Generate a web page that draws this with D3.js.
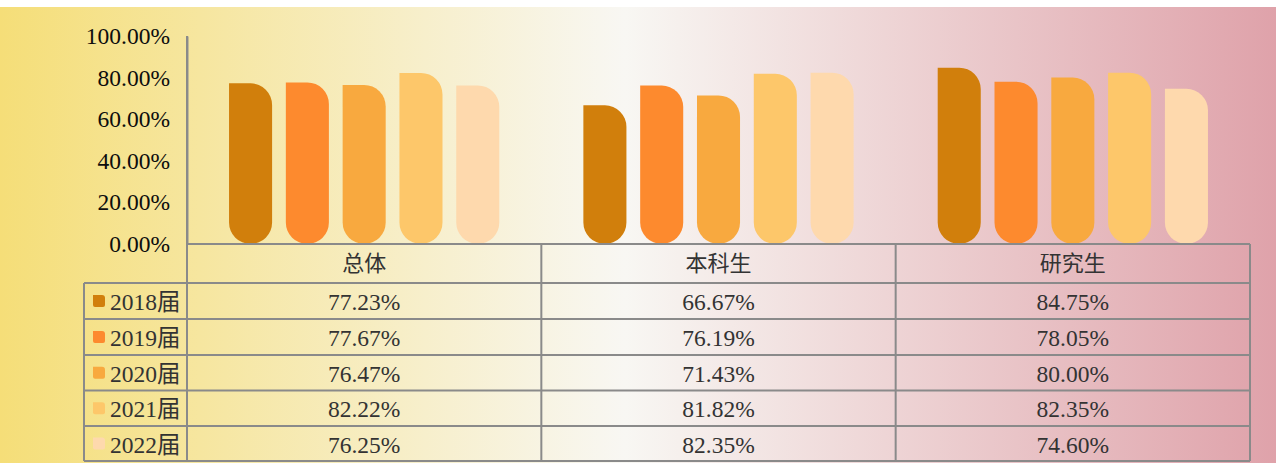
<!DOCTYPE html>
<html><head><meta charset="utf-8">
<script src="https://cdn.jsdelivr.net/npm/d3@7"></script>
<style>html,body{margin:0;padding:0;background:#fff;}svg{display:block;}
svg text{font-family:"Liberation Serif","Times New Roman",Times,"Noto Sans CJK SC",serif;}</style>
</head><body>
<script>
const categories = ["总体", "本科生", "研究生"];
const series = ["2018届", "2019届", "2020届", "2021届", "2022届"];
const values2018 = [77.23, 66.67, 84.75];
const values2019 = [77.67, 76.19, 78.05];
const values2020 = [76.47, 71.43, 80.00];
const values2021 = [82.22, 81.82, 82.35];
const values2022 = [76.25, 82.35, 74.60];
const yTicks = [0, 20, 40, 60, 80, 100];
const colors = ["#D17F0C", "#FD8A2E", "#F8A93F", "#FDC76A", "#FED9AD"];

const allValues = [values2018, values2019, values2020, values2021, values2022];

(function () {
const W = 1276, H = 463;
const svg = d3.select("body").append("svg").attr("width", W).attr("height", H);

const defs = svg.append("defs");
const grad = defs.append("linearGradient").attr("id", "bg").attr("x1", "0").attr("x2", "1").attr("y1", "0").attr("y2", "0");
grad.append("stop").attr("offset", "0").attr("stop-color", "#F5DE78");
grad.append("stop").attr("offset", "0.49").attr("stop-color", "#F8F7F3");
grad.append("stop").attr("offset", "1").attr("stop-color", "#DFA2AA");
svg.append("rect").attr("x", 0).attr("y", 7).attr("width", W).attr("height", H - 7).attr("fill", "url(#bg)");

const pLeft = 187, pRight = 1250, pTop = 36, base = 244;
const rowEdges = [244, 283, 319, 355, 390.5, 426, 461];
const legendLeft = 84;

const x0 = d3.scaleBand().domain(categories).range([pLeft, pRight]).padding(0);
const x1 = d3.scaleBand().domain(series).range([0, x0.bandwidth()]).paddingInner(0.242).paddingOuter(0.74);
const y = d3.scaleLinear().domain([0, 100]).range([base, pTop]);

function barPath(x, yt, w, y0) {
  const r = w / 2;
  const h = y0 - yt;
  const rt = Math.min(r, h / 2);
  return `M${x},${y0 - r} L${x},${yt} L${x + w - r},${yt} A${r},${rt} 0 0 1 ${x + w},${yt + rt} L${x + w},${y0 - r} A${r},${r} 0 0 1 ${x},${y0 - r} Z`;
}

const g = svg.append("g");
categories.forEach((c, ci) => {
  series.forEach((s, si) => {
    const v = allValues[si][ci];
    g.append("path")
      .attr("d", barPath(x0(c) + x1(s), y(v), x1.bandwidth(), base))
      .attr("fill", colors[si]);
  });
});

const axis = d3.axisLeft(y).tickValues(yTicks).tickSize(0).tickPadding(17)
  .tickFormat(d => d.toFixed(2) + "%");
const ag = svg.append("g").attr("transform", `translate(${pLeft},0)`).call(axis);
ag.attr("font-family", null).attr("font-size", null);
ag.select(".domain").attr("stroke", "#8E8E8E").attr("stroke-width", 2);
ag.selectAll("text").style("font-size", "23.5px").attr("fill", "#0d0d0d");

const lineColor = "#8A8A8A";
const tg = svg.append("g").attr("stroke", lineColor).attr("stroke-width", 2).attr("fill", "none");
rowEdges.forEach((ry, i) => {
  tg.append("line").attr("x1", i === 0 ? pLeft : legendLeft).attr("x2", pRight).attr("y1", ry).attr("y2", ry);
});
tg.append("line").attr("x1", legendLeft).attr("x2", legendLeft).attr("y1", rowEdges[1]).attr("y2", rowEdges[6]);
const colEdges = categories.map(c => x0(c)).concat([pRight]);
colEdges.forEach(cx => {
  tg.append("line").attr("x1", cx).attr("x2", cx).attr("y1", cx === pLeft ? pTop : rowEdges[0]).attr("y2", rowEdges[6]);
});

const textColor = "#333333";
categories.forEach(c => {
  svg.append("text").attr("x", x0(c) + x0.bandwidth() / 2).attr("y", (rowEdges[0] + rowEdges[1]) / 2)
    .attr("text-anchor", "middle").attr("dominant-baseline", "central")
    .style("font-size", "22px").attr("fill", textColor).text(c);
});
series.forEach((s, si) => {
  const cy = (rowEdges[si + 1] + rowEdges[si + 2]) / 2;
  svg.append("path")
    .attr("d", `M93,${cy - 6} L${93 + 9},${cy - 6} A3,3 0 0 1 ${93 + 12},${cy - 3} L${93 + 12},${cy + 4} A2,2 0 0 1 ${93 + 10},${cy + 6} L95,${cy + 6} A2,2 0 0 1 93,${cy + 4} Z`)
    .attr("fill", colors[si]);
  svg.append("text").attr("x", 110).attr("y", cy + 1)
    .attr("dominant-baseline", "central")
    .style("font-size", "23.5px").attr("fill", textColor).text(s);
  categories.forEach((c, ci) => {
    svg.append("text").attr("x", x0(c) + x0.bandwidth() / 2).attr("y", cy + 1)
      .attr("text-anchor", "middle").attr("dominant-baseline", "central")
      .style("font-size", "23.5px").attr("fill", textColor)
      .text(allValues[si][ci].toFixed(2) + "%");
  });
});
})();
</script>
</body></html>
